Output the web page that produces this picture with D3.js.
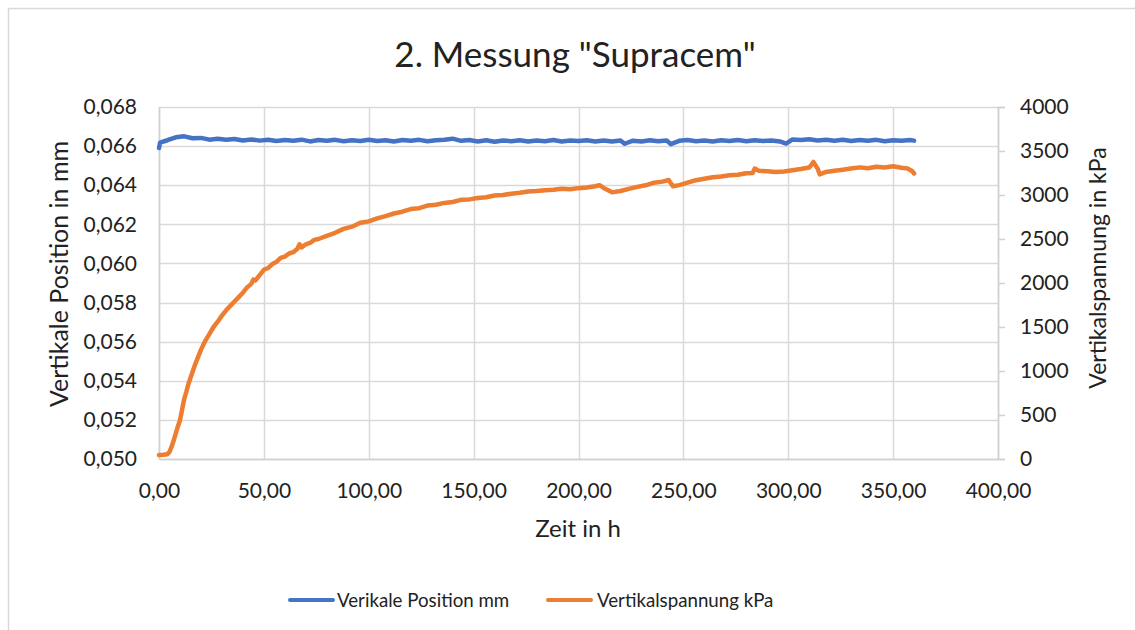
<!DOCTYPE html>
<html>
<head>
<meta charset="utf-8">
<script src="https://cdn.jsdelivr.net/npm/d3@7"></script>
<style>
  body { margin: 0; background: #fff; }
  text { font-family: Lato, "Open Sans", sans-serif; fill: #222; }
</style>
</head>
<body>
<script>
// data
var title = '2. Messung "Supracem"'
var xTicks = [0, 50, 100, 150, 200, 250, 300, 350, 400]
var yLeftTicks = [0.050, 0.052, 0.054, 0.056, 0.058, 0.060, 0.062, 0.064, 0.066, 0.068]
var yRightTicks = [0, 500, 1000, 1500, 2000, 2500, 3000, 3500, 4000]

var posTime = [0, 0.5, 4, 8, 12, 16, 20, 24, 28, 32, 36, 40, 44, 48, 52, 56, 60, 64, 68, 72, 76, 80, 84, 88, 92, 96,
  100, 104, 108, 112, 116, 120, 124, 128, 132, 136, 140, 144, 148, 152, 156, 160, 164, 168, 172, 176, 180, 184, 188, 192, 196,
  200, 204, 208, 212, 216, 220, 222, 226, 230, 234, 238, 242, 244, 248, 252, 256, 260, 264, 268, 272, 276, 280, 284, 288, 292, 296,
  299, 302, 306, 310, 314, 318, 322, 326, 330, 334, 338, 342, 346, 350, 354, 358, 360]
var posValue = [0.06590, 0.06618, 0.06630, 0.06645, 0.06650, 0.06640, 0.06642, 0.06633, 0.06638, 0.06632, 0.06636, 0.06629, 0.06634, 0.06628, 0.06633, 0.06626, 0.06631, 0.06627, 0.06633, 0.06624, 0.06631, 0.06627, 0.06632, 0.06625, 0.06630, 0.06626,
  0.06632, 0.06626, 0.06630, 0.06624, 0.06631, 0.06627, 0.06632, 0.06625, 0.06630, 0.06633, 0.06638, 0.06627, 0.06631, 0.06624, 0.06630, 0.06622, 0.06629, 0.06625, 0.06630, 0.06624, 0.06629, 0.06625, 0.06631, 0.06624, 0.06629,
  0.06626, 0.06630, 0.06624, 0.06629, 0.06624, 0.06629, 0.06612, 0.06628, 0.06624, 0.06630, 0.06625, 0.06629, 0.06610, 0.06627, 0.06631, 0.06625, 0.06629, 0.06624, 0.06630, 0.06626, 0.06631, 0.06625, 0.06630, 0.06626, 0.06629, 0.06624,
  0.06613, 0.06634, 0.06631, 0.06635, 0.06629, 0.06633, 0.06627, 0.06632, 0.06626, 0.06631, 0.06627, 0.06632, 0.06625, 0.06630, 0.06627, 0.06631, 0.06628]

var stressTime = [0, 2, 4, 5, 6, 7, 8, 9, 10, 11, 12, 13, 14, 15, 16, 17, 18, 19, 20, 22, 24, 26, 28, 30, 32, 34, 36, 38, 40, 42, 44, 45, 46, 48,
  50, 52, 54, 56, 58, 60, 62, 64, 66, 67, 68, 70, 72, 74, 76, 80, 84, 88, 92, 96, 100, 104, 108, 112, 116, 120, 124, 128, 132, 136, 140, 144, 148,
  152, 156, 160, 164, 168, 172, 176, 180, 184, 188, 192, 196, 200, 204, 208, 210, 212, 216, 220, 224, 228, 232, 236, 240, 243, 245, 248,
  252, 256, 260, 264, 268, 272, 276, 280, 283, 284, 286, 290, 294, 298, 302, 306, 310, 312, 314, 315, 318, 322, 326, 330, 334, 338, 342, 346,
  350, 354, 357, 359, 360]
var stressValue = [45, 48, 55, 80, 140, 210, 290, 370, 440, 560, 680, 760, 850, 920, 990, 1060, 1120, 1180, 1240, 1340, 1420, 1500, 1560, 1630, 1690, 1740, 1790, 1840, 1890, 1950, 1990, 2040, 2030, 2090,
  2150, 2170, 2215, 2240, 2285, 2300, 2335, 2350, 2390, 2440, 2405, 2440, 2455, 2490, 2500, 2535, 2570, 2615, 2640, 2685, 2700, 2735, 2760, 2790, 2810, 2840, 2850, 2880, 2890, 2910, 2920, 2945, 2950,
  2965, 2975, 2995, 3000, 3015, 3025, 3040, 3045, 3055, 3060, 3070, 3065, 3078, 3085, 3100, 3112, 3080, 3030, 3045, 3070, 3092, 3110, 3140, 3152, 3170, 3100, 3112,
  3140, 3168, 3185, 3202, 3210, 3224, 3230, 3248, 3250, 3300, 3275, 3270, 3262, 3268, 3282, 3295, 3312, 3375, 3300, 3235, 3262, 3275, 3288, 3300, 3314, 3305, 3322, 3312,
  3326, 3310, 3300, 3272, 3245]

var seriesNames = ["Verikale Position mm", "Vertikalspannung kPa"]
var seriesColors = ["#4472c4", "#ed7d31"]

var W = 1135, H = 630
var svg = d3.select("body").append("svg")
    .attr("width", W)
    .attr("height", H)

// chart border
svg.append("rect")
    .attr("x", 8.5).attr("y", 8.5)
    .attr("width", W + 20).attr("height", H + 20)
    .attr("fill", "none")
    .attr("stroke", "#d9d9d9")
    .attr("stroke-width", 1.5)

var x = d3.scaleLinear().domain([0, 400]).range([159, 998])
var yL = d3.scaleLinear().domain([0.050, 0.068]).range([459, 107])
var yR = d3.scaleLinear().domain([0, 4000]).range([459, 107])

var fmt2 = d3.format(".2f"), fmt3 = d3.format(".3f")
var comma = (s) => s.replace(".", ",")

// grid
var grid = svg.append("g")
grid.selectAll("line.h")
    .data(yLeftTicks)
    .enter()
    .append("line")
    .attr("x1", x(0)).attr("x2", x(400))
    .attr("y1", (d) => {return Math.round(yL(d)) + 0.5})
    .attr("y2", (d) => {return Math.round(yL(d)) + 0.5})
    .attr("stroke", "#d9d9d9").attr("stroke-width", 1.5)
grid.selectAll("line.v")
    .data(xTicks)
    .enter()
    .append("line")
    .attr("y1", yL(0.050)).attr("y2", yL(0.068))
    .attr("x1", (d) => {return Math.round(x(d)) + 0.5})
    .attr("x2", (d) => {return Math.round(x(d)) + 0.5})
    .attr("stroke", "#d9d9d9").attr("stroke-width", 1.5)

// axes
var xAxis = svg.append("g")
    .attr("transform", "translate(0," + 459 + ")")
    .call(d3.axisBottom(x).tickValues(xTicks).tickSize(0).tickPadding(24).tickFormat((d) => comma(fmt2(d))))
var yAxisL = svg.append("g")
    .attr("transform", "translate(" + 159 + ",0)")
    .call(d3.axisLeft(yL).tickValues(yLeftTicks).tickSize(0).tickPadding(22).tickFormat((d) => comma(fmt3(d))))
var yAxisR = svg.append("g")
    .attr("transform", "translate(" + 998 + ",0)")
    .call(d3.axisRight(yR).tickValues(yRightTicks).tickSize(7).tickPadding(15).tickFormat((d) => String(d)))

svg.selectAll(".domain").attr("stroke", "#d0d0d0").attr("stroke-width", 1.5)
svg.selectAll(".tick line").attr("stroke", "#d0d0d0").attr("stroke-width", 1.5)
svg.selectAll(".tick text")
    .style("font-family", "Lato, 'Open Sans', sans-serif")
    .style("font-size", "21px")
    .attr("fill", "#222")

// series
var linePos = d3.line()
    .x((d, i) => {return x(posTime[i])})
    .y((d) => {return yL(d)})
var lineStress = d3.line()
    .x((d, i) => {return x(stressTime[i])})
    .y((d) => {return yR(d)})

svg.append("path")
    .datum(stressValue)
    .attr("d", lineStress)
    .attr("fill", "none")
    .attr("stroke", seriesColors[1])
    .attr("stroke-width", 4.5)
    .attr("stroke-linejoin", "round")
    .attr("stroke-linecap", "round")

svg.append("path")
    .datum(posValue)
    .attr("d", linePos)
    .attr("fill", "none")
    .attr("stroke", seriesColors[0])
    .attr("stroke-width", 4.5)
    .attr("stroke-linejoin", "round")
    .attr("stroke-linecap", "round")

// titles
svg.append("text")
    .attr("x", 575).attr("y", 67)
    .attr("text-anchor", "middle")
    .style("font-size", "35px")
    .text(title)

svg.append("text")
    .attr("x", 578).attr("y", 537)
    .attr("text-anchor", "middle")
    .style("font-size", "24px")
    .text("Zeit in h")

svg.append("text")
    .attr("transform", "translate(67.5,274) rotate(-90)")
    .attr("text-anchor", "middle")
    .style("font-size", "25px")
    .text("Vertikale Position in mm")

svg.append("text")
    .attr("transform", "translate(1106,268) rotate(-90)")
    .attr("text-anchor", "middle")
    .style("font-size", "23px")
    .text("Vertikalspannung in kPa")

// legend
var legendX = [290, 548]
var legend = svg.append("g")
legend.selectAll("line")
    .data(seriesNames)
    .enter()
    .append("line")
    .attr("x1", (d, i) => {return legendX[i]})
    .attr("x2", (d, i) => {return legendX[i] + 43})
    .attr("y1", 600).attr("y2", 600)
    .attr("stroke", (d, i) => {return seriesColors[i]})
    .attr("stroke-width", 4)
    .attr("stroke-linecap", "round")
legend.selectAll("text")
    .data(seriesNames)
    .enter()
    .append("text")
    .attr("x", (d, i) => {return legendX[i] + (i == 0 ? 47 : 49)})
    .attr("y", 607)
    .style("font-size", "18.7px")
    .text((d) => {return d})
</script>
</body>
</html>
